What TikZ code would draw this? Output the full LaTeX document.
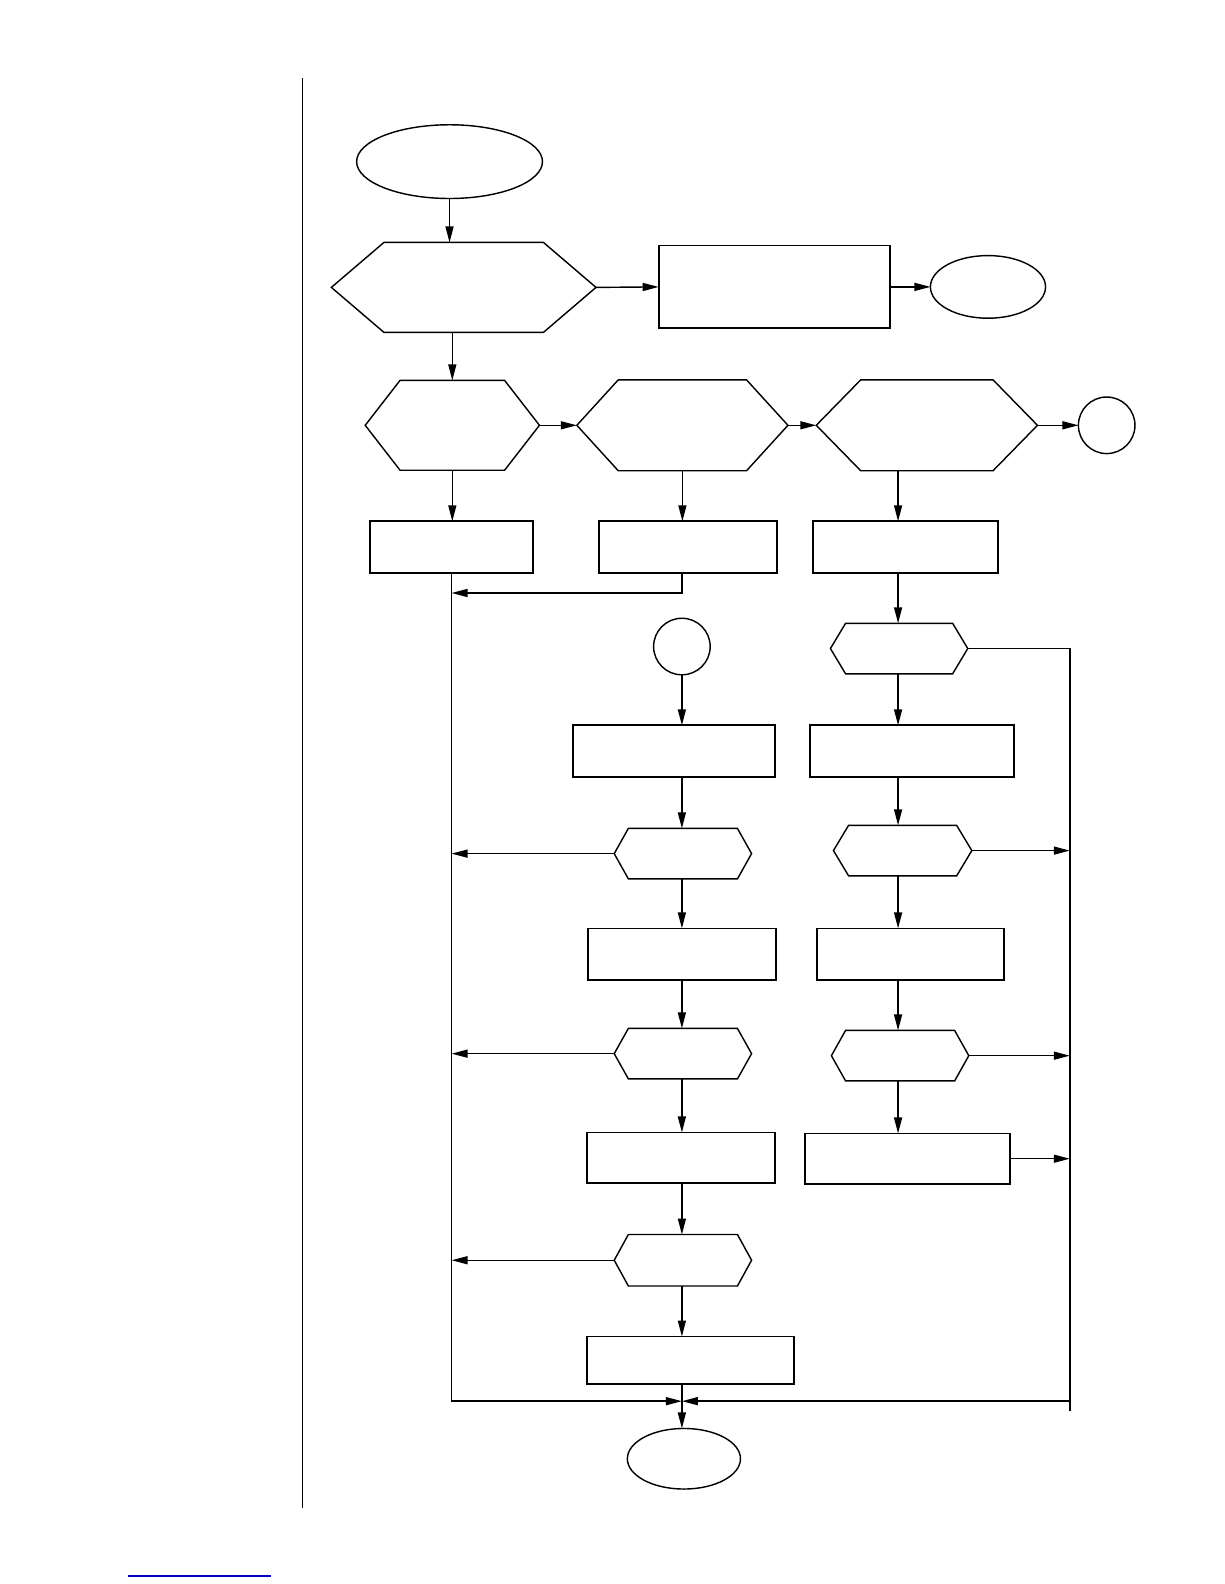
\documentclass[tikz,border=0pt]{standalone}
\usetikzlibrary{shapes.geometric, arrows.meta, calc}

% hexagon outline round an (invisible) named node, #2 = chamfer
\newcommand{\drawhex}[2]{%
  \draw[hexline] (#1.west) -- ($(#1.north west)+(#2,0)$) -- ($(#1.north east)-(#2,0)$)
    -- (#1.east) -- ($(#1.south east)-(#2,0)$) -- ($(#1.south west)+(#2,0)$) -- cycle;}

\begin{document}
\begin{tikzpicture}[x=0.02cm, y=-0.02cm,
  box/.style 2 args={draw, line width=1pt, inner sep=0pt, outer sep=0pt,
    minimum width=#1, minimum height=#2},
  oval/.style 2 args={draw, ellipse, line width=0.8pt, inner sep=0pt, outer sep=0pt,
    minimum width=#1, minimum height=#2},
  hexnode/.style 2 args={inner sep=0pt, outer sep=0pt, minimum width=#1, minimum height=#2},
  hexline/.style={line width=0.8pt, line join=miter},
  arr/.style={line width=0.8pt, -{Triangle[length=9pt, width=4.5pt]}},
  bus/.style={line width=0.8pt}]
  \useasboundingbox (0,0) rectangle (1212,1568);

  % page rule and link line
  \draw[line width=0.6pt] (299,77) -- (299,1493);
  \draw[blue!75!black, line width=0.7pt] (127,1560) -- (268,1560);

  % top part
  \node[oval={3.68cm}{1.46cm}] (start) at (445,160) {};
  \node[hexnode={5.24cm}{1.78cm}] (hexA) at (459,284.5) {};
  \node[box={4.58cm}{1.64cm}] (R1) at (766.5,284) {};
  \node[oval={2.28cm}{1.24cm}] (E1) at (978,284) {};

  \node[hexnode={3.45cm}{1.78cm}] (hexB) at (447.75,421) {};
  \node[hexnode={4.18cm}{1.8cm}] (hexC) at (675.5,421) {};
  \node[hexnode={4.38cm}{1.8cm}] (hexD) at (917.5,421) {};
  \node[oval={1.12cm}{1.12cm}] (C1) at (1095.5,421) {};

  \node[box={3.24cm}{1.02cm}] (B1) at (447,541.5) {};
  \node[box={3.52cm}{1.02cm}] (C1box) at (681,541.5) {};
  \node[box={3.66cm}{1.02cm}] (D1) at (896.5,541.5) {};

  % middle column
  \node[oval={1.12cm}{1.12cm}] (C2) at (675,640) {};
  \node[box={4.0cm}{1.02cm}] (M1) at (667,743.5) {};
  \node[hexnode={2.72cm}{1.0cm}] (hexH) at (676,845) {};
  \node[box={3.72cm}{1.02cm}] (M2) at (675,944.5) {};
  \node[hexnode={2.72cm}{1.0cm}] (hexI) at (676,1043) {};
  \node[box={3.72cm}{1.0cm}] (M3) at (674,1146) {};
  \node[hexnode={2.72cm}{1.02cm}] (hexJ) at (676,1247.5) {};
  \node[box={4.1cm}{0.94cm}] (M4) at (683.5,1346.5) {};
  \node[oval={2.24cm}{1.2cm}] (end) at (677,1444) {};

  % right column
  \node[hexnode={2.72cm}{1.0cm}] (hexE) at (890,642) {};
  \node[box={4.04cm}{1.02cm}] (E2) at (903,743.5) {};
  \node[hexnode={2.74cm}{1.0cm}] (hexF) at (893.5,842) {};
  \node[box={3.7cm}{1.02cm}] (F2) at (901.5,944.5) {};
  \node[hexnode={2.72cm}{1.0cm}] (hexG) at (891,1045) {};
  \node[box={4.06cm}{1.0cm}] (G2) at (898.5,1147) {};

  \drawhex{hexA}{52}
  \drawhex{hexB}{34.5}
  \drawhex{hexC}{41}
  \drawhex{hexD}{44}
  \drawhex{hexE}{15}
  \drawhex{hexF}{15}
  \drawhex{hexG}{14}
  \drawhex{hexH}{14}
  \drawhex{hexI}{14}
  \drawhex{hexJ}{14}

  \coordinate (mcol) at (675,0);
  \coordinate (rcol) at (889,0);
  \coordinate (ret) at (675,587);
  \coordinate (join) at (675,1387);
  \coordinate (rbot) at (1059,1397);

  % connectors, top
  \draw[arr] (start.south) -- (start.south |- hexA.north);
  \draw[arr] (hexA.east) -- (R1.west);
  \draw[arr] (R1.east) -- (E1.west);
  \draw[arr] (hexB.north |- hexA.south) -- (hexB.north);
  \draw[arr] (hexB.east) -- (hexC.west);
  \draw[arr] (hexC.east) -- (hexD.west);
  \draw[arr] (hexD.east) -- (C1.west);
  \draw[arr] (hexB.south) -- (hexB.south |- B1.north);
  \draw[arr] (hexC.south) -- (hexC.south |- C1box.north);
  \draw[arr] (hexD.south -| rcol) -- (D1.north -| rcol);
  \draw[arr] (C1box.south -| ret) -- (ret) -- (ret -| B1.south);

  % middle column
  \draw[arr] (C2.south) -- (M1.north -| mcol);
  \draw[arr] (M1.south -| mcol) -- (hexH.north -| mcol);
  \draw[arr] (hexH.south -| mcol) -- (M2.north -| mcol);
  \draw[arr] (M2.south -| mcol) -- (hexI.north -| mcol);
  \draw[arr] (hexI.south -| mcol) -- (M3.north -| mcol);
  \draw[arr] (M3.south -| mcol) -- (hexJ.north -| mcol);
  \draw[arr] (hexJ.south -| mcol) -- (M4.north -| mcol);
  \draw[arr] (M4.south -| mcol) -- (end.north -| mcol);

  % right column
  \draw[arr] (D1.south -| rcol) -- (hexE.north -| rcol);
  \draw[arr] (hexE.south -| rcol) -- (E2.north -| rcol);
  \draw[arr] (E2.south -| rcol) -- (hexF.north -| rcol);
  \draw[arr] (hexF.south -| rcol) -- (F2.north -| rcol);
  \draw[arr] (F2.south -| rcol) -- (hexG.north -| rcol);
  \draw[arr] (hexG.south -| rcol) -- (G2.north -| rcol);

  % left bus
  \draw[arr] (B1.south) -- (B1.south |- join) -- (join);
  \draw[arr] (hexH.west) -- (hexH.west -| B1.south);
  \draw[arr] (hexI.west) -- (hexI.west -| B1.south);
  \draw[arr] (hexJ.west) -- (hexJ.west -| B1.south);

  % right bus
  \draw[bus] (hexE.east) -- (hexE.east -| rbot) -- (rbot);
  \draw[arr] (hexF.east) -- (hexF.east -| rbot);
  \draw[arr] (hexG.east) -- (hexG.east -| rbot);
  \draw[arr] (G2.east) -- (G2.east -| rbot);
  \draw[arr] (rbot |- join) -- (join);
\end{tikzpicture}
\end{document}
